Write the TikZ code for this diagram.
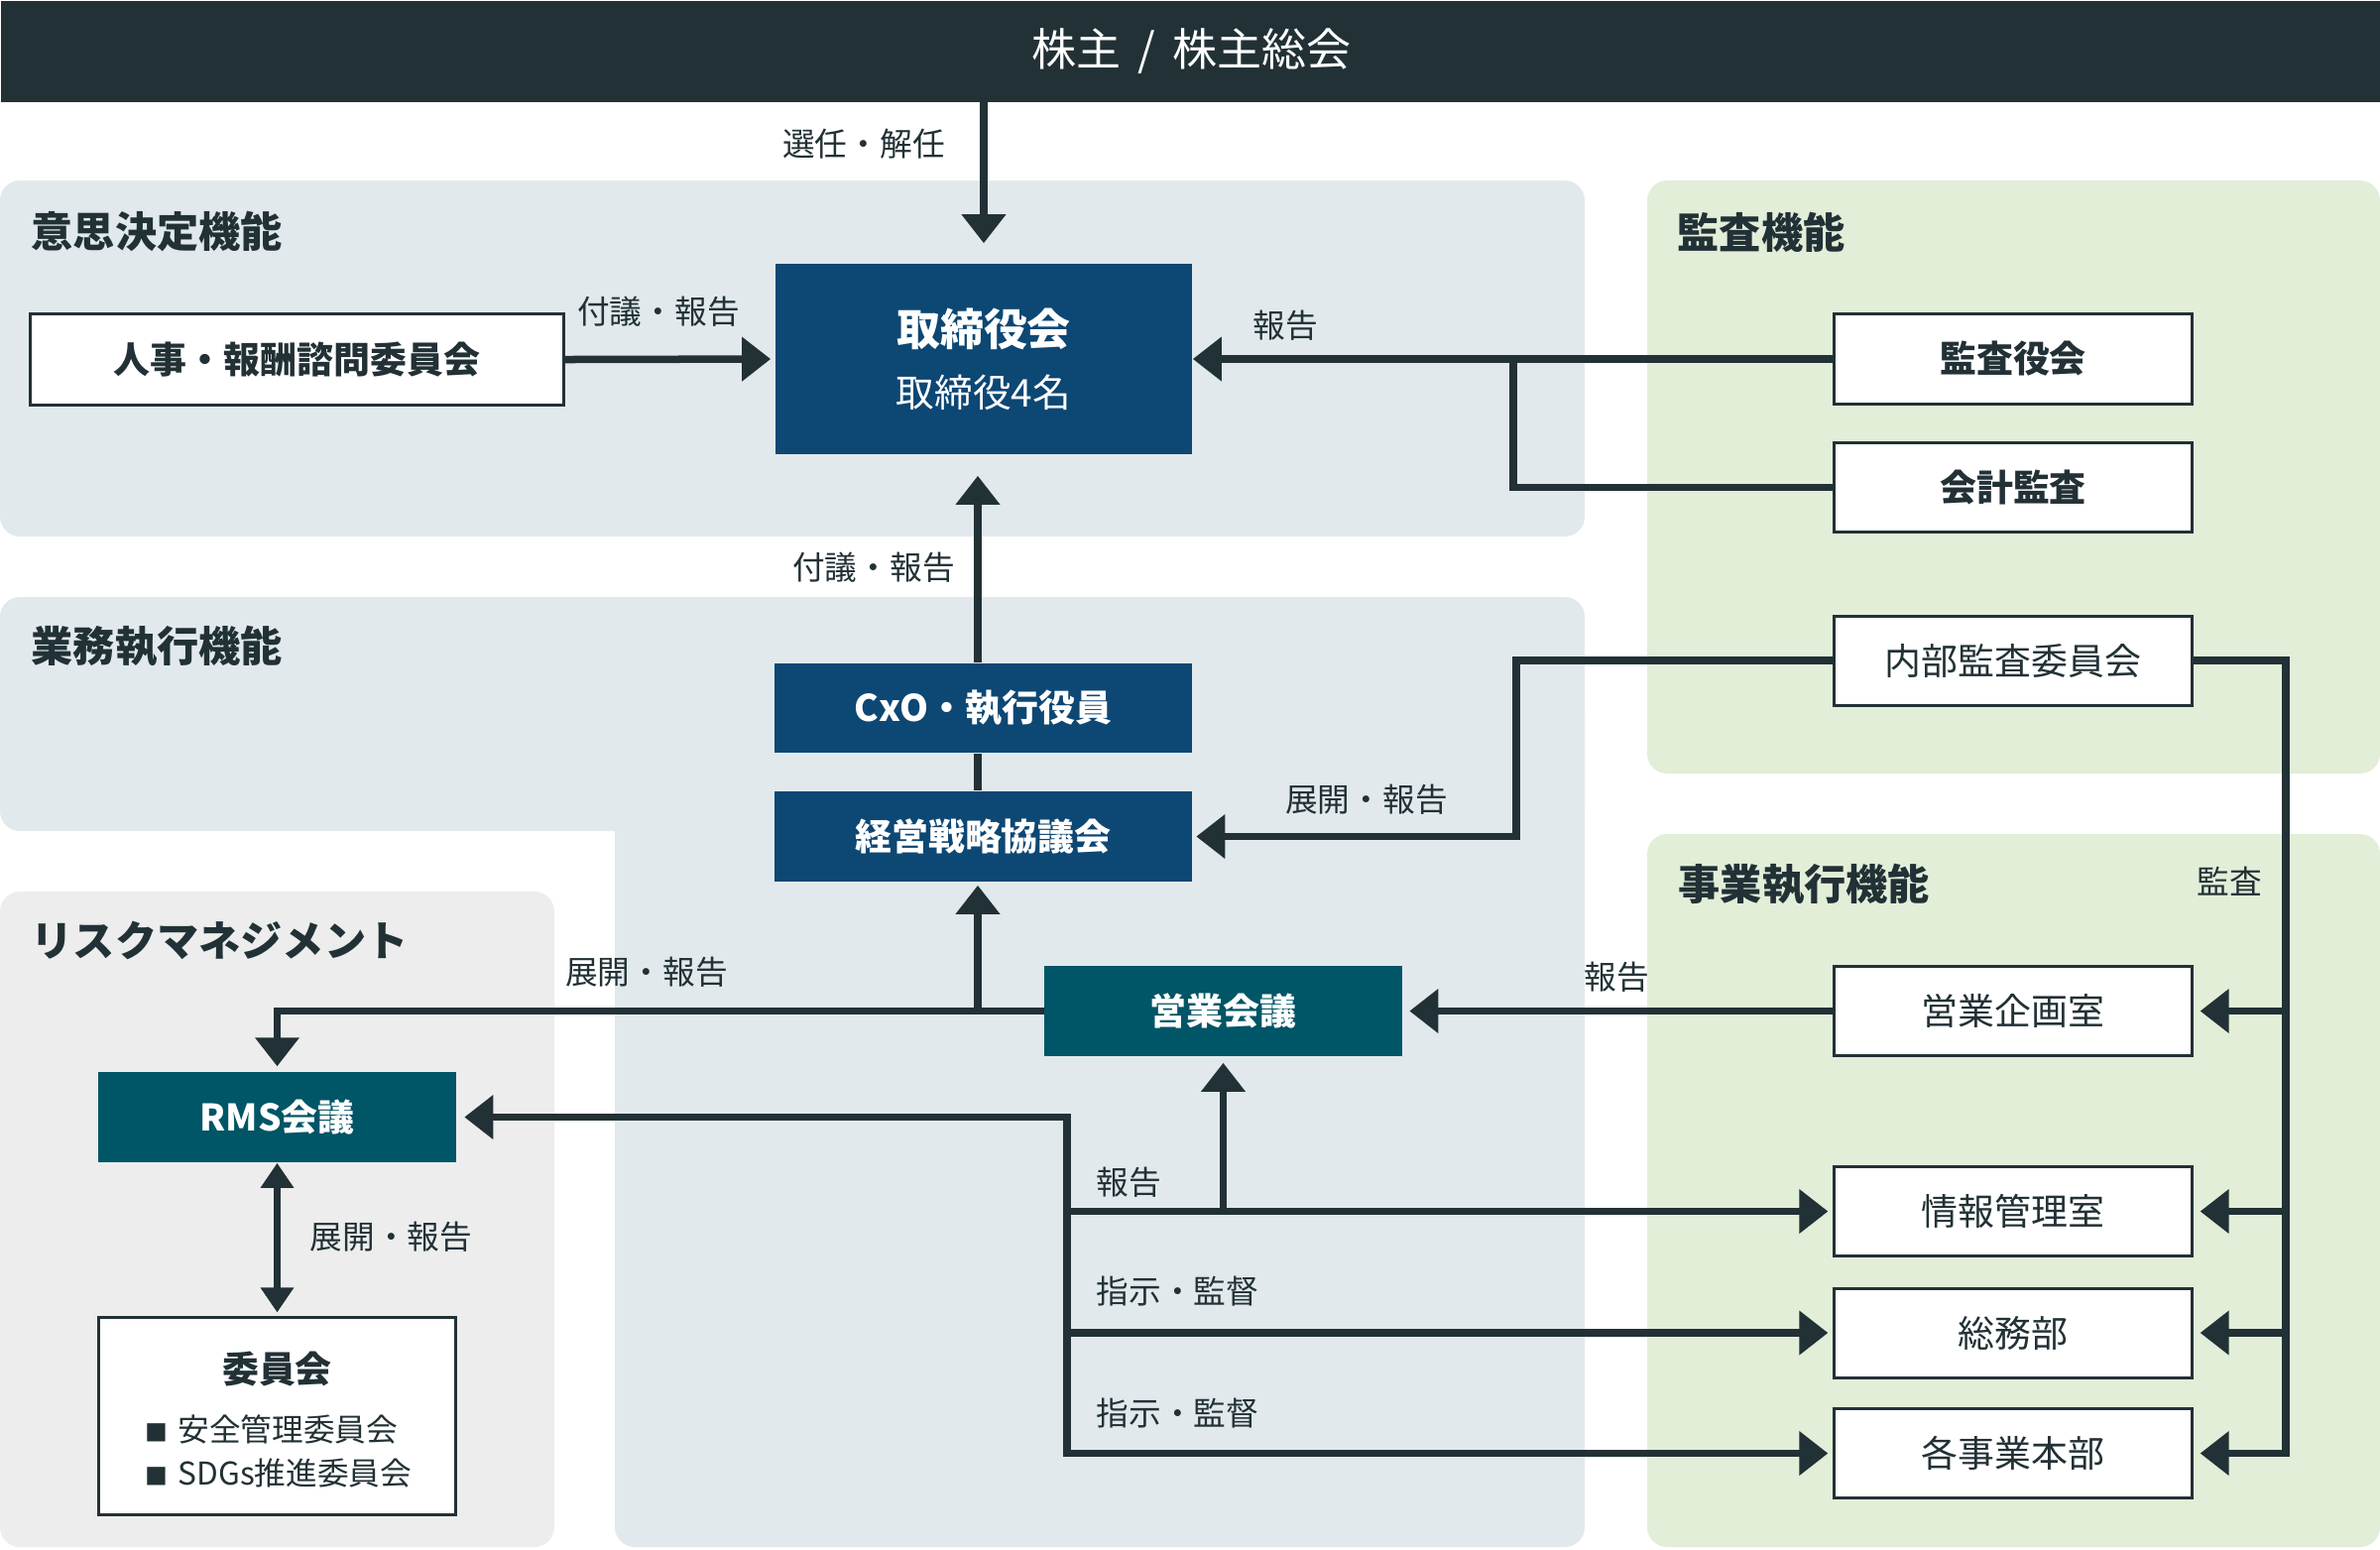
\documentclass[tikz,border=0pt]{standalone}
\usepackage{fontspec}
\setmainfont{Noto Sans CJK JP}
\usetikzlibrary{arrows.meta}
\definecolor{topbar}{HTML}{223136}
\definecolor{navy}{HTML}{0D4774}
\definecolor{tealbox}{HTML}{005566}
\definecolor{linec}{HTML}{223136}
\definecolor{pblue}{HTML}{E1E9EC}
\definecolor{pgreen}{HTML}{E2EED8}
\definecolor{pgray}{HTML}{EDEDED}
\newcommand\fsTitle{\fontsize{12.8pt}{15pt}\selectfont}
\newcommand\fsPanel{\fontsize{12pt}{14pt}\selectfont\bfseries}
\newcommand\fsBoard{\fontsize{12.5pt}{15pt}\selectfont\bfseries}
\newcommand\fsBox{\fontsize{10.5pt}{13pt}\selectfont}
\newcommand\fsLab{\fontsize{9.3pt}{11pt}\selectfont}
\newcommand\sqbullet{{\fontsize{6.5pt}{8pt}\selectfont ■}\hspace{0.1cm}}
\tikzset{
  wbox/.style={draw=linec, line width=0.03cm, fill=white, text=linec,
    minimum width=3.6cm, minimum height=0.9cm, inner sep=0pt, font=\fsBox},
  nbox/.style={fill=navy, text=white, minimum width=4.2cm, minimum height=0.9cm,
    inner sep=0pt, font=\fsBox\bfseries},
  tbox/.style={fill=tealbox, text=white, minimum width=3.6cm, minimum height=0.91cm,
    inner sep=0pt, font=\fsBox\bfseries},
  conn/.style={draw=linec, line width=0.075cm},
  arr/.style={conn, -{Triangle[width=4.3mm,length=2.9mm]}},
  lab/.style={font=\fsLab, text=linec, inner sep=0pt},
  panlab/.style={font=\fsPanel, text=linec, anchor=west, inner sep=0pt},
  panel/.style={rounded corners=0.2cm}
}
\begin{document}
\begin{tikzpicture}[x=0.01cm,y=-0.01cm]
\useasboundingbox (0,0) rectangle (2400,1562);
% panels
\fill[pblue, panel] (0,182) rectangle (1598,541);
\fill[pblue, panel] (0,602) rectangle (1598,838);
\fill[pblue, panel] (620,700) rectangle (1598,1560);
\fill[pgray, panel] (0,899) rectangle (559,1560);
\fill[pgreen, panel] (1661,182) rectangle (2400,780);
\fill[pgreen, panel] (1661,841) rectangle (2400,1560);
% top bar
\node[fill=topbar, minimum width=24cm, minimum height=1.02cm, anchor=north west,
  inner sep=0pt, text=white, font=\fsTitle] (top) at (0,0) {株主\hspace{0.38em}/\hspace{0.38em}株主総会};
% panel labels
\node[panlab] (l1) at (31,233) {意思決定機能};
\node[panlab] (l2) at (31,652) {業務執行機能};
\node[panlab] (l3) at (31,948) {リスクマネジメント};
\node[panlab] (l4) at (1691,234) {監査機能};
\node[panlab] (l5) at (1692,892) {事業執行機能};
% nodes
\node[nbox, minimum height=1.92cm, align=center, font=\fontsize{11pt}{17.6pt}\selectfont]
  (board) at (992,362) {{\fsBoard 取締役会}\\取締役4名};
\node[wbox, minimum width=5.37cm, minimum height=0.91cm, font=\fsBox\bfseries] (hr) at (299.5,362.5) {人事・報酬諮問委員会};
\node[wbox, font=\fsBox\bfseries] (kansayaku) at (2030,362) {監査役会};
\node[wbox, font=\fsBox\bfseries] (kaikei) at (2030,491.5) {会計監査};
\node[wbox] (naibu) at (2030,666) {内部監査委員会};
\node[nbox] (cxo) at (991.5,714) {CxO・執行役員};
\node[nbox, minimum height=0.91cm] (keiei) at (991.5,843.5) {経営戦略協議会};
\node[tbox] (eigyo) at (1233.5,1019.5) {営業会議};
\node[wbox] (kikaku) at (2030,1019.5) {営業企画室};
\node[wbox] (joho) at (2030,1221.5) {情報管理室};
\node[wbox] (somu) at (2030,1344) {総務部};
\node[wbox] (jigyo) at (2030,1465.5) {各事業本部};
\node[tbox] (rms) at (279.5,1126.5) {RMS会議};
\node[wbox, minimum width=3.59cm, minimum height=1.98cm] (iinkai) at (279.5,1428) {};
\node[font=\fsBox\bfseries, text=linec, inner sep=0pt] (iit) at (279.5,1380) {委員会};
\node[lab, anchor=west, font=\fontsize{9pt}{11pt}\selectfont] (ii1) at (146,1441) {\sqbullet 安全管理委員会};
\node[lab, anchor=west, font=\fontsize{9pt}{11pt}\selectfont] (ii2) at (146,1485) {\sqbullet SDGs推進委員会};
% coordinates
\coordinate (j1) at (1526,362);
\coordinate (j2) at (1529,848);
\coordinate (j3) at (2305,667);
\coordinate (bus) at (1076,1129);
\coordinate (vx) at (986,0);
% connectors
\draw[arr, shorten >=0.2cm] (board.north |- top.south) -- (board.north);
\draw[arr, shorten >=0.04cm] (hr.east) -- (board.west);
\draw[arr] (kansayaku.west) -- (board.east);
\draw[conn] (kaikei.west) -| (j1);
\draw[arr, shorten >=0.21cm] (cxo.north -| vx) -- (board.south -| vx);
\draw[conn] (cxo.south -| vx) -- (keiei.north -| vx);
\draw[arr, shorten >=0.04cm] (naibu.west) -| (keiei.east -| j2) -- (keiei.east);
\draw[arr, shorten >=0.07cm] (naibu.east) -| (jigyo.east -| j3) -- (jigyo.east);
\draw[arr, shorten >=0.07cm] (kikaku.east -| j3) -- (kikaku.east);
\draw[arr, shorten >=0.07cm] (joho.east -| j3) -- (joho.east);
\draw[arr, shorten >=0.07cm] (somu.east -| j3) -- (somu.east);
\draw[arr, shorten >=0.07cm] (kikaku.west) -- (eigyo.east);
\draw[arr, shorten >=0.05cm] (eigyo.west) -| (rms.north);
\draw[arr, shorten >=0.03cm] (eigyo.west -| vx) -- (keiei.south -| vx);
\draw[conn, {Triangle[width=4.3mm,length=2.9mm]}-{Triangle[width=4.3mm,length=2.9mm]},
  shorten <=0.08cm, shorten >=0.05cm] (rms.east) -| (jigyo.west -| bus) -- (jigyo.west);
\draw[arr, shorten >=0.05cm] (joho.west -| bus) -- (joho.west);
\draw[arr, shorten >=0.05cm] (somu.west -| bus) -- (somu.west);
\draw[arr, shorten >=0.06cm] (eigyo.south |- joho.west) -- (eigyo.south);
\draw[conn, {Triangle[width=3.2mm,length=2.5mm]}-{Triangle[width=3.2mm,length=2.5mm]},
  shorten >=0.04cm] (rms.south) -- (iinkai.north);
% labels
\node[lab] (t1) at (871,145) {選任・解任};
\node[lab] (t2) at (664,314) {付議・報告};
\node[lab] (t3) at (1296,328) {報告};
\node[lab] (t4) at (881,572) {付議・報告};
\node[lab] (t5) at (1378,806) {展開・報告};
\node[lab] (t6) at (2248,889) {監査};
\node[lab] (t7) at (1630,985) {報告};
\node[lab] (t8) at (652,980) {展開・報告};
\node[lab, anchor=west] (t9) at (1105,1192) {報告};
\node[lab, anchor=west] (t10) at (1105,1302) {指示・監督};
\node[lab, anchor=west] (t11) at (1105,1425) {指示・監督};
\node[lab, anchor=west] (t12) at (312,1247) {展開・報告};
\end{tikzpicture}
\end{document}
